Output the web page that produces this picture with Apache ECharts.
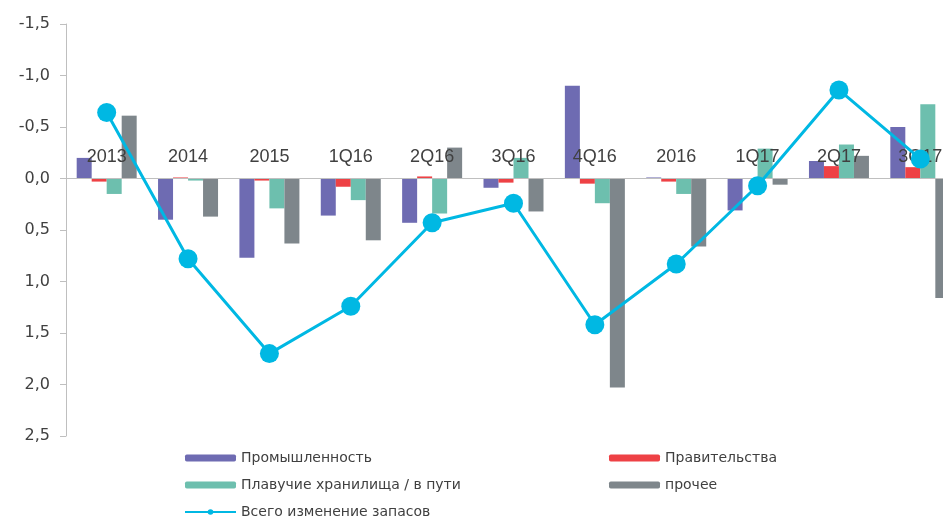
<!DOCTYPE html>
<html>
<head>
<meta charset="utf-8">
<script src="https://cdn.jsdelivr.net/npm/echarts@6/dist/echarts.min.js"></script>
<style>
  html, body { margin: 0; padding: 0; background: #fff; }
  #main { width: 943px; height: 518px; }
</style>
</head>
<body>
<div id="main"></div>
<script>
// categories and series (axis is inverted: negative up)
const categories = ['2013', '2014', '2015', '1Q16', '2Q16', '3Q16', '4Q16', '2016', '1Q17', '2Q17', '3Q17'];
const industry   = [-0.20, 0.40, 0.77, 0.36, 0.43, 0.09, -0.90, -0.01, 0.31, -0.17, -0.50];
const government = [0.03, -0.01, 0.02, 0.08, -0.02, 0.04, 0.05, 0.03, 0.00, -0.12, -0.11];
const floating   = [0.15, 0.02, 0.29, 0.21, 0.34, -0.20, 0.24, 0.15, -0.29, -0.33, -0.72];
const other      = [-0.61, 0.37, 0.63, 0.60, -0.30, 0.32, 2.03, 0.66, 0.06, -0.22, 1.16];
const total      = [-0.64, 0.78, 1.70, 1.24, 0.43, 0.24, 1.42, 0.83, 0.07, -0.86, -0.19];

const names = ['Промышленность', 'Правительства', 'Плавучие хранилища / в пути', 'прочее', 'Всего изменение запасов'];
const colors = ['#6E6BB2', '#EE4145', '#6DBFAE', '#7E868B', '#00B8E3'];

const chart = echarts.init(document.getElementById('main'));

function bar(name, data, color) {
    return {
        name: name,
        type: 'bar',
        data: data,
        barWidth: 15,
        barGap: '0%',
        itemStyle: { color: color },
        z: 2
    };
}

const legendText = { fontFamily: 'DejaVu Sans', fontSize: 14, lineHeight: 16, color: '#404040' };

// grid: y from -1.5 (top, y=24) to 2.5 (bottom, y=436); zero line sits 154.5px below the top
const option = {
    animation: false,
    textStyle: { fontFamily: 'Liberation Sans, Arial, sans-serif' },
    grid: { left: 66, top: 24, width: 895, height: 412, outerBoundsMode: 'none' },
    legend: [
        {
            orient: 'vertical', left: 184, top: 450, itemGap: 11, padding: 0,
            itemWidth: 51, itemHeight: 7, height: 90,
            textStyle: legendText,
            data: [names[0], names[2], names[4]]
        },
        {
            orient: 'vertical', left: 609, top: 450, itemGap: 11, padding: 0,
            itemWidth: 51, itemHeight: 7, height: 90,
            textStyle: legendText,
            data: [names[1], names[3]]
        }
    ],
    xAxis: {
        type: 'category',
        data: categories,
        position: 'top',
        offset: -154.5,
        z: 3,
        axisLine: { onZero: false, lineStyle: { color: '#BFBFBF' } },
        axisTick: { length: 6, lineStyle: { color: '#BFBFBF' } },
        axisLabel: { margin: 12, fontSize: 18, color: '#404040' }
    },
    yAxis: {
        type: 'value',
        inverse: true,
        min: -1.5,
        max: 2.5,
        interval: 0.5,
        splitLine: { show: false },
        axisLine: { show: true, lineStyle: { color: '#BFBFBF' } },
        axisTick: { show: true, length: 6, lineStyle: { color: '#BFBFBF' } },
        axisLabel: {
            margin: 16, fontSize: 16, fontFamily: 'DejaVu Sans', color: '#404040',
            formatter: v => v.toFixed(1).replace('.', ',')
        }
    },
    series: [
        bar(names[0], industry, colors[0]),
        bar(names[1], government, colors[1]),
        bar(names[2], floating, colors[2]),
        bar(names[3], other, colors[3]),
        {
            name: names[4],
            type: 'line',
            data: total,
            z: 5,
            symbol: 'circle',
            symbolSize: 19,
            lineStyle: { width: 3, color: colors[4] },
            itemStyle: { color: colors[4] }
        }
    ]
};

chart.setOption(option);
</script>
</body>
</html>
